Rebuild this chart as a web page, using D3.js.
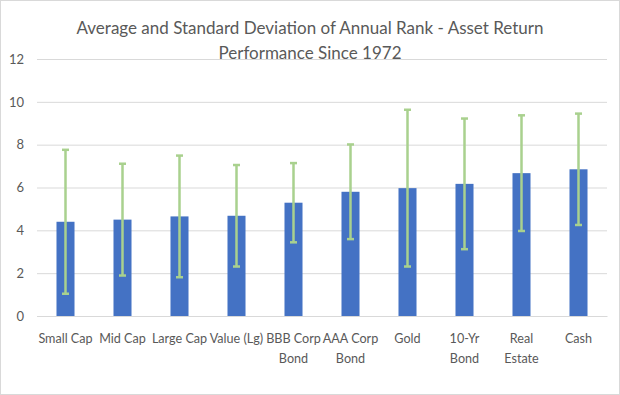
<!DOCTYPE html>
<html>
<head>
<meta charset="utf-8">
<script src="https://cdn.jsdelivr.net/npm/d3@7"></script>
<style>
  body { margin: 0; background: #fff; }
  svg { display: block; font-family: Lato, "Open Sans", "Liberation Sans", sans-serif; }
</style>
</head>
<body>
<svg width="620" height="395"></svg>
<script>
// values
const categories = ["Small Cap", "Mid Cap", "Large Cap", "Value (Lg)", "BBB Corp\nBond", "AAA Corp\nBond", "Gold", "10-Yr\nBond", "Real\nEstate", "Cash"]
const averages = [4.40, 4.50, 4.65, 4.68, 5.29, 5.80, 5.97, 6.17, 6.67, 6.85]
const stdDevs = [3.36, 2.61, 2.84, 2.37, 1.85, 2.21, 3.66, 3.05, 2.70, 2.60]
const yTicks = [0, 2, 4, 6, 8, 10, 12]
const titleLines = ["Average and Standard Deviation of Annual Rank - Asset Return", "Performance Since 1972"]

const svg = d3.select("svg")
const textColor = "#595959"

svg.append("rect")
	.attr("x", 0.5).attr("y", 0.5)
	.attr("width", 619).attr("height", 394)
	.attr("fill", "#fff")
	.attr("stroke", "#d9d9d9")

const margin = { left: 37, right: 13, top: 59, bottom: 79 }
const x = d3.scaleBand()
	.domain(categories)
	.range([margin.left, 620 - margin.right])
	.paddingInner(0.684)
	.paddingOuter(0.342)
const y = d3.scaleLinear()
	.domain([0, 12])
	.range([395 - margin.bottom, margin.top])

// gridlines + y labels
const yAxis = svg.append("g")
	.attr("transform", `translate(${margin.left},0)`)
	.call(d3.axisLeft(y).tickValues(yTicks).tickSize(-(620 - margin.left - margin.right)).tickPadding(13))
	.attr("font-family", null)
	.attr("font-size", null)
yAxis.select(".domain").remove()
yAxis.selectAll(".tick line").attr("stroke", "#d9d9d9")
yAxis.selectAll(".tick text")
	.attr("fill", textColor)
	.style("font-size", "13px")

// bars
svg.append("g")
	.selectAll("rect")
	.data(categories)
	.enter()
	.append("rect")
	.attr("x", d => x(d))
	.attr("width", x.bandwidth())
	.attr("y", (d, i) => y(averages[i]))
	.attr("height", (d, i) => y(0) - y(averages[i]))
	.attr("fill", "#4472c4")

// error bars
const err = svg.append("g")
	.attr("stroke", "#a9d18e")
	.attr("stroke-width", 2.5)
	.selectAll("g")
	.data(categories)
	.enter()
	.append("g")
	.attr("transform", d => `translate(${x(d) + x.bandwidth() / 2},0)`)
err.append("line")
	.attr("y1", (d, i) => y(averages[i] + stdDevs[i]))
	.attr("y2", (d, i) => y(averages[i] - stdDevs[i]))
err.append("line")
	.attr("x1", -3.5).attr("x2", 3.5)
	.attr("y1", (d, i) => y(averages[i] + stdDevs[i]))
	.attr("y2", (d, i) => y(averages[i] + stdDevs[i]))
err.append("line")
	.attr("x1", -3.5).attr("x2", 3.5)
	.attr("y1", (d, i) => y(averages[i] - stdDevs[i]))
	.attr("y2", (d, i) => y(averages[i] - stdDevs[i]))

// x axis line + category labels
const xAxis = svg.append("g")
	.attr("transform", `translate(0,${y(0)})`)
	.call(d3.axisBottom(x).tickSize(0).tickFormat(""))
	.attr("font-family", null)
	.attr("font-size", null)
xAxis.select(".domain").attr("stroke", "#d9d9d9")
xAxis.selectAll(".tick").each(function (d) {
	const t = d3.select(this).append("text")
		.attr("fill", textColor)
		.attr("text-anchor", "middle")
		.style("font-size", "12.6px")
	d.split("\n").forEach((line, i) => {
		t.append("tspan").attr("x", 0).attr("y", 27 + i * 19.5).text(line)
	})
})

// title
svg.append("text")
	.attr("text-anchor", "middle")
	.attr("fill", textColor)
	.style("font-size", "17px")
	.selectAll("tspan")
	.data(titleLines)
	.enter()
	.append("tspan")
	.attr("x", 310)
	.attr("y", (d, i) => 34 + i * 25)
	.text(d => d)
</script>
</body>
</html>
